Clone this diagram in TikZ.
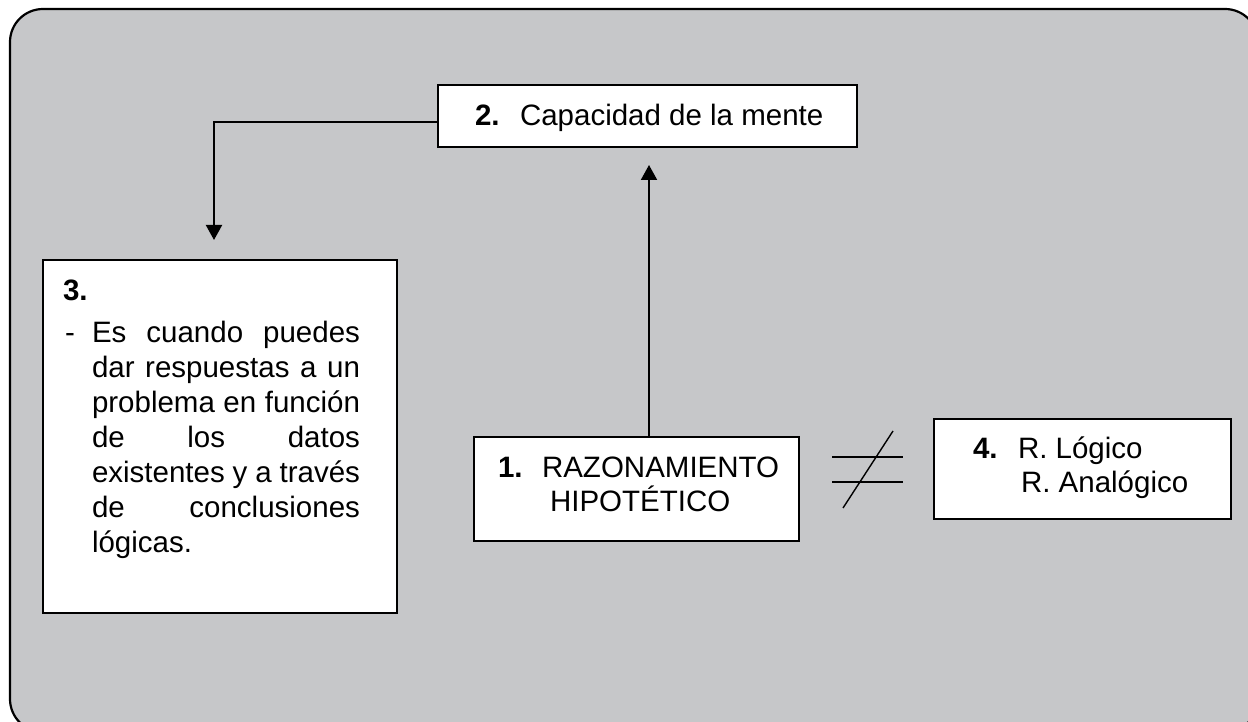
\documentclass[tikz,border=0pt]{standalone}
\usepackage{fontspec}
\setmainfont{Liberation Sans}
\usetikzlibrary{arrows.meta}
\definecolor{bggray}{RGB}{198,199,201}
\begin{document}
\begin{tikzpicture}[x=1pt,y=-1pt,
  box/.style={draw=black,fill=white,line width=2.2pt},
  txt/.style={anchor=base west,inner sep=0pt,outer sep=0pt,font=\fontsize{29.5}{35}\selectfont},
  btxt/.style={txt,font=\fontsize{29.5}{35}\selectfont\bfseries},
  conn/.style={line width=2pt,-{Triangle[length=15pt,width=16pt]}},
  neq/.style={line width=1.4pt}]
\useasboundingbox (0,0) rectangle (1248,722);
\draw[rounded corners=33pt,fill=bggray,line width=2.2pt] (10,9) rectangle (1258,732);
% boxes
\draw[box] (438,85) rectangle (857,147);
\node[inner sep=0pt,minimum width=419pt,minimum height=62pt] (b2) at (647.5,116) {};
\draw[box] (43,260) rectangle (397,613);
\node[inner sep=0pt,minimum width=354pt,minimum height=353pt] (b3) at (220,436.5) {};
\draw[box] (474,437) rectangle (799,541);
\node[inner sep=0pt,minimum width=325pt,minimum height=104pt] (b1) at (636.5,489) {};
\draw[box] (934,419) rectangle (1231,519);
\node[inner sep=0pt,minimum width=297pt,minimum height=100pt] (b4) at (1082.5,469) {};
% texts
\node[btxt] (n2) at (475,126) {2.};
\node[txt] (t2) at (520,126) {Capacidad de la mente};
\node[btxt] (n3) at (63,300) {3.};
\node[txt] (d3) at (65,342) {-};
\node[txt] (l1) at (92,342) {\makebox[268pt][s]{Es cuando puedes}};
\node[txt] (l2) at (92,377) {\makebox[268pt][s]{dar respuestas a un}};
\node[txt] (l3) at (92,412) {\makebox[268pt][s]{problema en función}};
\node[txt] (l4) at (92,447) {\makebox[268pt][s]{de los datos}};
\node[txt] (l5) at (92,482) {\makebox[268pt][s]{existentes y a través}};
\node[txt] (l6) at (92,517) {\makebox[268pt][s]{de conclusiones}};
\node[txt] (l7) at (92,552) {lógicas.};
\node[btxt] (n1) at (498,477) {1.};
\node[txt] (t1a) at (542,477) {RAZONAMIENTO};
\node[txt] (t1b) at (550,511) {HIPOTÉTICO};
\node[btxt] (n4) at (973,458) {4.};
\node[txt] (t4a) at (1018,458) {R. Lógico};
\node[txt] (t4b) at (1021,492) {R. Analógico};
% connectors
\coordinate (k) at (214,122);
\coordinate (t3) at (214,240);
\draw[conn] (b2.west |- k) -- (k) -- (t3);
\coordinate (a1) at (649,165);
\draw[conn] (b1.north -| a1) -- (a1);
% not equal sign
\draw[neq] (832,457) -- (903,457);
\draw[neq] (832,482) -- (903,482);
\draw[neq] (893,431) -- (843,508);
\end{tikzpicture}
\end{document}
